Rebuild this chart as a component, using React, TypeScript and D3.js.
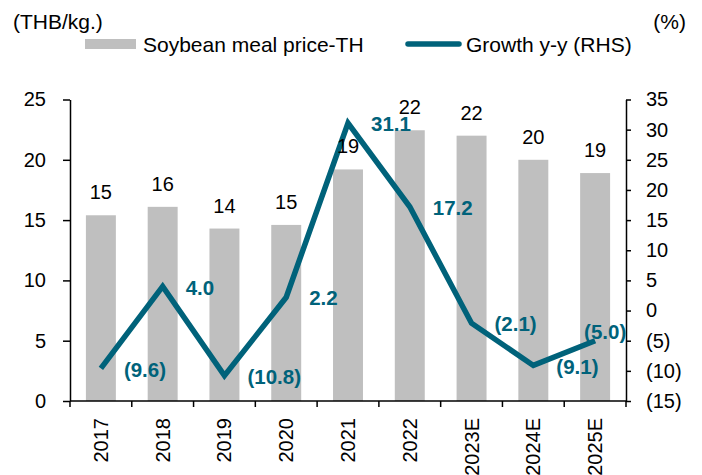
import React, { useEffect, useRef } from 'react';
import * as d3 from 'd3';

// chart data
const years = ['2017', '2018', '2019', '2020', '2021', '2022', '2023E', '2024E', '2025E'];
const priceValues = [15.4, 16.1, 14.3, 14.6, 19.2, 22.45, 22.0, 20.0, 18.9]; // THB/kg.
const growthValues = [-9.6, 4.0, -10.8, 2.2, 31.1, 17.2, -2.1, -9.1, -5.0]; // % y-y
const leftTicks = [0, 5, 10, 15, 20, 25];
const rightTicks = [-15, -10, -5, 0, 5, 10, 15, 20, 25, 30, 35];

const BAR_COLOR = '#bfbfbf';
const LINE_COLOR = '#00627a';
const FONT = '"Liberation Sans", Arial, sans-serif';

const W = 702;
const H = 475;
const plot = { left: 70, right: 626, top: 99.5, bottom: 401 };

const fmtPct = (d: number, digits: number) =>
  d < 0 ? `(${(-d).toFixed(digits)})` : d.toFixed(digits);

const App = () => {
  const svgRef = useRef<SVGSVGElement>(null);

  useEffect(() => {
    const svg = d3.select(svgRef.current);
    svg.selectAll('*').remove();

    const x = d3.scaleBand<string>()
      .domain(years)
      .range([plot.left, plot.right])
      .padding(0);
    const yLeft = d3.scaleLinear().domain([0, 25]).range([plot.bottom, plot.top]);
    const yRight = d3.scaleLinear().domain([-15, 35]).range([plot.bottom, plot.top]);

    const barW = x.step() * 0.485;
    const cx = (d: string) => (x(d) as number) + x.bandwidth() / 2;

    // bars
    svg.append('g')
      .selectAll('rect')
      .data(years)
      .enter().append('rect')
      .attr('x', d => cx(d) - barW / 2)
      .attr('width', barW)
      .attr('y', (d, i) => yLeft(priceValues[i]))
      .attr('height', (d, i) => plot.bottom - yLeft(priceValues[i]))
      .attr('fill', BAR_COLOR);

    // left axis
    const gl = svg.append('g')
      .attr('transform', `translate(${plot.left},0)`)
      .call(d3.axisLeft(yLeft).tickValues(leftTicks).tickSize(7).tickSizeOuter(0).tickPadding(17));

    // right axis
    const gr = svg.append('g')
      .attr('transform', `translate(${plot.right},0)`)
      .call(d3.axisRight(yRight).tickValues(rightTicks).tickSize(5).tickSizeOuter(0).tickPadding(15)
        .tickFormat(d => fmtPct(d as number, 0)));

    [gl, gr].forEach(g => {
      g.selectAll('path, line').attr('stroke', '#000').attr('stroke-width', 1.5);
      g.selectAll('text')
        .attr('font-family', FONT)
        .attr('font-size', 20)
        .attr('fill', '#000');
    });

    // bottom axis with ticks at category boundaries
    const gx = svg.append('g');
    gx.append('line')
      .attr('x1', plot.left).attr('x2', plot.right)
      .attr('y1', plot.bottom).attr('y2', plot.bottom)
      .attr('stroke', '#000').attr('stroke-width', 1.5);
    gx.selectAll('.tick')
      .data(d3.range(years.length + 1))
      .enter().append('line')
      .attr('x1', i => plot.left + i * x.step())
      .attr('x2', i => plot.left + i * x.step())
      .attr('y1', plot.bottom)
      .attr('y2', plot.bottom + 6)
      .attr('stroke', '#000').attr('stroke-width', 1.5);
    gx.selectAll('text')
      .data(years)
      .enter().append('text')
      .attr('transform', d => `translate(${cx(d)},${plot.bottom + 17}) rotate(-90)`)
      .attr('text-anchor', 'end')
      .attr('dy', '0.35em')
      .attr('font-family', FONT)
      .attr('font-size', 20)
      .text(d => d);

    // growth line
    const line = d3.line<number>()
      .x((d, i) => cx(years[i]))
      .y(d => yRight(d));

    svg.append('path')
      .datum(growthValues)
      .attr('d', line)
      .attr('fill', 'none')
      .attr('stroke', LINE_COLOR)
      .attr('stroke-width', 5.5)
      .attr('stroke-linejoin', 'miter');

    // growth labels, placed right of each point; the last one sits above it
    svg.append('g')
      .selectAll('text')
      .data(growthValues)
      .enter().append('text')
      .attr('x', (d, i) => cx(years[i]) + (i === growthValues.length - 1 ? -11 : 23))
      .attr('y', (d, i) => yRight(d) + (i === growthValues.length - 1 ? -9 : 1))
      .attr('dy', '0.35em')
      .attr('font-family', FONT)
      .attr('font-size', 20.5)
      .attr('font-weight', 'bold')
      .attr('fill', LINE_COLOR)
      .text(d => fmtPct(d, 1));

    // bar value labels
    svg.append('g')
      .selectAll('text')
      .data(priceValues)
      .enter().append('text')
      .attr('x', (d, i) => cx(years[i]))
      .attr('y', d => yLeft(d) - 16)
      .attr('text-anchor', 'middle')
      .attr('font-family', FONT)
      .attr('font-size', 20)
      .attr('fill', '#000')
      .text(d => d3.format('.0f')(d));

    // unit titles
    svg.append('text')
      .attr('x', 13).attr('y', 29)
      .attr('font-family', FONT).attr('font-size', 21)
      .text('(THB/kg.)');
    svg.append('text')
      .attr('x', 686).attr('y', 29)
      .attr('text-anchor', 'end')
      .attr('font-family', FONT).attr('font-size', 21)
      .text('(%)');

    // legend
    const legend = svg.append('g');
    legend.append('rect')
      .attr('x', 85).attr('y', 39).attr('width', 51).attr('height', 10)
      .attr('fill', BAR_COLOR);
    legend.append('text')
      .attr('x', 143).attr('y', 52)
      .attr('font-family', FONT).attr('font-size', 21)
      .text('Soybean meal price-TH');
    legend.append('line')
      .attr('x1', 408).attr('x2', 459).attr('y1', 44).attr('y2', 44)
      .attr('stroke', LINE_COLOR).attr('stroke-width', 5.5)
      .attr('stroke-linecap', 'round');
    legend.append('text')
      .attr('x', 466).attr('y', 52)
      .attr('font-family', FONT).attr('font-size', 21)
      .text('Growth y-y (RHS)');
  }, []);

  return (
    <svg
      ref={svgRef}
      width={W}
      height={H}
      style={{ position: 'absolute', left: 0, top: 0, background: '#fff' }}
    />
  );
};

export default App;
